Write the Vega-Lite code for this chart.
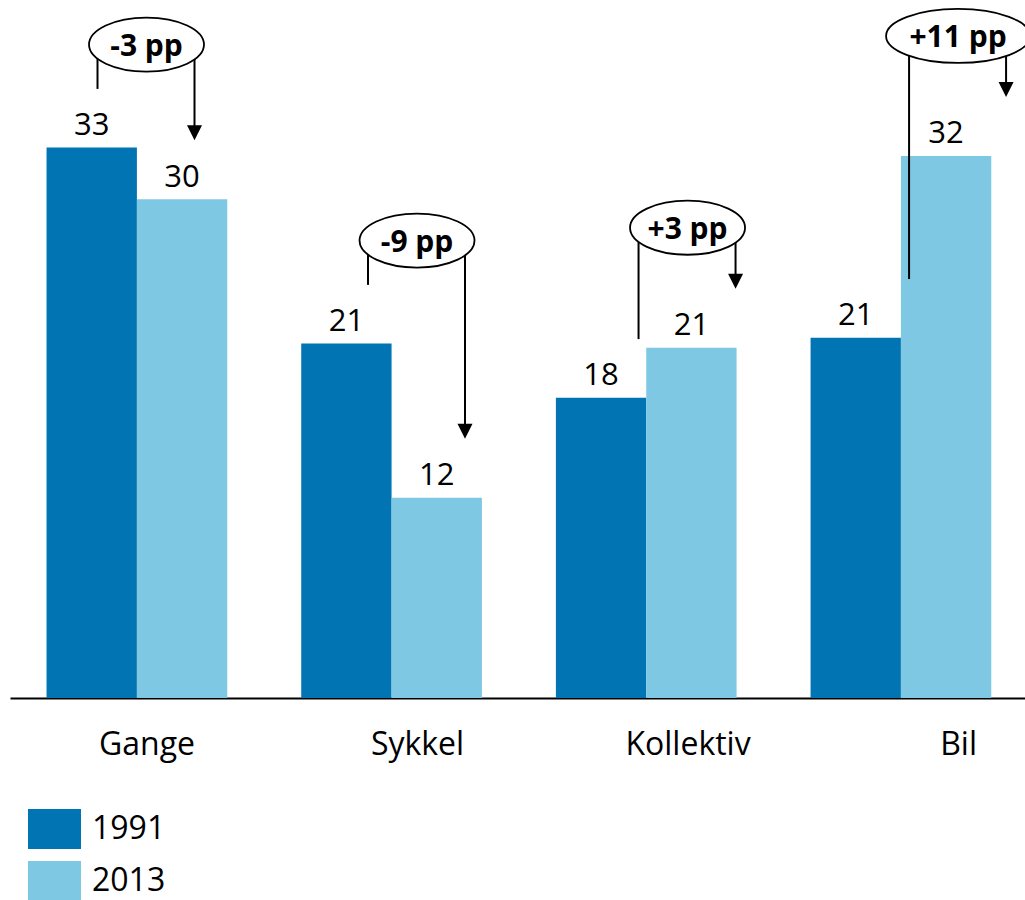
{
  "$schema": "https://vega.github.io/schema/vega-lite/v6.json",
  "width": 1015,
  "height": 698,
  "autosize": "none",
  "padding": {"left": 10, "top": 0, "right": 0, "bottom": 202},
  "config": {"view": {"stroke": null}, "font": "Open Sans"},
  "datasets": {
    "bars": [
      {"cat": "Gange", "year": "1991", "value": 33.0, "label": 33},
      {"cat": "Gange", "year": "2013", "value": 29.9, "label": 30},
      {"cat": "Sykkel", "year": "1991", "value": 21.25, "label": 21},
      {"cat": "Sykkel", "year": "2013", "value": 12.0, "label": 12},
      {"cat": "Kollektiv", "year": "1991", "value": 18.0, "label": 18},
      {"cat": "Kollektiv", "year": "2013", "value": 21.0, "label": 21},
      {"cat": "Bil", "year": "1991", "value": 21.6, "label": 21},
      {"cat": "Bil", "year": "2013", "value": 32.5, "label": 32}
    ],
    "changes": [
      {"cat": "Gange", "change": "-3 pp"},
      {"cat": "Sykkel", "change": "-9 pp"},
      {"cat": "Kollektiv", "change": "+3 pp"},
      {"cat": "Bil", "change": "+11 pp"}
    ]
  },
  "resolve": {"scale": {"x": "independent"}},
  "layer": [
    {
      "data": {"name": "bars"},
      "encoding": {
        "x": {
          "field": "cat", "type": "nominal",
          "sort": ["Gange", "Sykkel", "Kollektiv", "Bil"],
          "scale": {"paddingInner": 0.2905, "paddingOuter": 0.138, "round": false, "align": 0.52},
          "axis": {"orient": "bottom", "domain": true, "domainColor": "black", "domainWidth": 2, "ticks": false, "tickSize": 0, "labels": false, "title": null, "grid": false}
        },
        "xOffset": {"field": "year", "type": "nominal", "scale": {"paddingInner": 0, "paddingOuter": 0, "round": false}},
        "y": {"field": "value", "type": "quantitative", "scale": {"domain": [0, 41.85], "nice": false, "zero": true}, "axis": null}
      },
      "layer": [
        {
          "mark": {"type": "bar"},
          "encoding": {
            "color": {
              "field": "year", "type": "nominal",
              "scale": {"domain": ["1991", "2013"], "range": ["#0174B4", "#7FC8E4"]},
              "legend": {
                "orient": "none", "legendX": 18, "legendY": 802.5, "title": null, "padding": 0,
                "direction": "vertical",
                "symbolType": "M-1,-0.755L1,-0.755L1,0.755L-1,0.755Z",
                "symbolSize": 2809, "symbolStrokeWidth": 0, "symbolOpacity": 1,
                "labelFontSize": 32, "labelFont": "Open Sans", "labelColor": "black",
                "labelOffset": 11, "rowPadding": 5
              }
            }
          }
        },
        {
          "mark": {"type": "text", "baseline": "alphabetic", "dy": -12.5, "fontSize": 31, "color": "black", "font": "Open Sans"},
          "encoding": {"text": {"field": "label", "type": "nominal"}}
        }
      ]
    },
    {
      "data": {"name": "bars"},
      "transform": [
        {"pivot": "year", "value": "value", "groupby": ["cat"]},
        {"lookup": "cat", "from": {"data": {"name": "changes"}, "key": "cat", "fields": ["change"]}},
        {"calculate": "max(datum['1991'], datum['2013'])", "as": "hi"}
      ],
      "encoding": {
        "x": {
          "field": "cat", "type": "nominal",
          "sort": ["Gange", "Sykkel", "Kollektiv", "Bil"],
          "scale": {"type": "point", "padding": 0.376, "align": 0.671},
          "axis": {"orient": "bottom", "domain": false, "ticks": false, "tickSize": 0, "labelFontSize": 32, "labelFont": "Open Sans", "labelColor": "black", "labelBaseline": "alphabetic", "labelPadding": 56, "labelAngle": 0, "title": null, "grid": false}
        }
      },
      "layer": [
        {
          "mark": {"type": "rule", "strokeWidth": 2, "color": "black", "xOffset": -49, "yOffset": {"expr": "datum['2013'] > datum['1991'] ? -120 : -103"}, "y2Offset": -58.7},
          "encoding": {
            "y": {"field": "hi", "type": "quantitative", "scale": {"domain": [0, 41.85], "nice": false}, "axis": null},
            "y2": {"field": "1991"}
          }
        },
        {
          "mark": {"type": "rule", "strokeWidth": 2, "color": "black", "xOffset": 48, "yOffset": {"expr": "datum['2013'] > datum['1991'] ? -120 : -103"}, "y2Offset": -66},
          "encoding": {
            "y": {"field": "hi", "type": "quantitative"},
            "y2": {"field": "2013"}
          }
        },
        {
          "mark": {"type": "point", "shape": "M-1,-1L1,-1L0,1Z", "size": 225, "filled": true, "color": "black", "opacity": 1, "strokeWidth": 0, "xOffset": 48, "yOffset": -66.5},
          "encoding": {
            "y": {"field": "2013", "type": "quantitative"}
          }
        },
        {
          "mark": {"type": "point", "fill": "white", "stroke": "black", "strokeWidth": 1.8, "opacity": 1, "fillOpacity": 1, "strokeOpacity": 1, "yOffset": {"expr": "datum['2013'] > datum['1991'] ? -120 : -103"}},
          "encoding": {
            "y": {"field": "hi", "type": "quantitative"},
            "shape": {"condition": {"test": "length(datum.change) > 5", "value": "M-1,0A1,0.375,0,1,1,1,0A1,0.375,0,1,1,-1,0Z"}, "value": "M-1,0A1,0.47,0,1,1,1,0A1,0.47,0,1,1,-1,0Z"},
            "size": {"condition": {"test": "length(datum.change) > 5", "value": 20736}, "value": 13225}
          }
        },
        {
          "mark": {"type": "text", "fontWeight": "bold", "fontSize": 30, "font": "Open Sans", "color": "black", "baseline": "alphabetic", "dy": 11, "yOffset": {"expr": "datum['2013'] > datum['1991'] ? -120 : -103"}},
          "encoding": {
            "y": {"field": "hi", "type": "quantitative"},
            "text": {"field": "change", "type": "nominal"}
          }
        }
      ]
    }
  ]
}
